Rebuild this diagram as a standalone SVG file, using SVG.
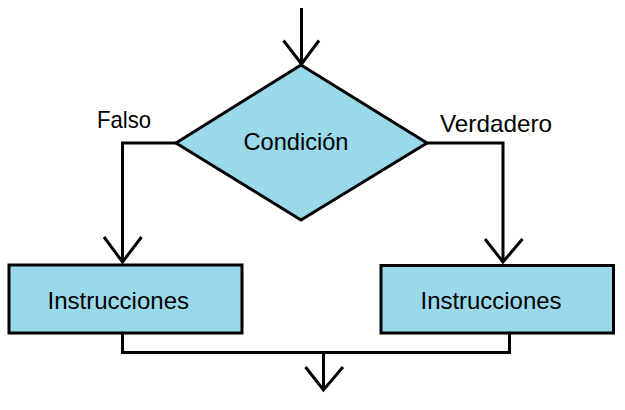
<svg xmlns="http://www.w3.org/2000/svg" width="625" height="410" viewBox="0 0 625 410">
<style>
.shape{fill:#99D9EA;stroke:#000;stroke-width:3}
.line{fill:none;stroke:#000;stroke-width:3}
.lbl{font-family:"Liberation Sans",Arial,sans-serif;font-size:24px;fill:#000}
</style>
<rect width="625" height="410" fill="#fff"/>
<g id="connectors">
  <path class="line" d="M301.5,8 V64"/>
  <path class="line" d="M283.5,40.5 L301.5,64 L319,40.5"/>
  <path class="line" d="M176,143 H122.5 V262"/>
  <path class="line" d="M104,237 L122.5,262 L141.5,237"/>
  <path class="line" d="M427,143 H503 V262"/>
  <path class="line" d="M485,239 L503,262 L522.5,239"/>
  <path class="line" d="M122.5,333 V352.5 H509.5 V333.5"/>
  <path class="line" d="M323.5,352.5 V390"/>
  <path class="line" d="M305.5,367 L323.5,390 L343,367"/>
  <text class="lbl" x="97" y="128" font-size="22" textLength="54" lengthAdjust="spacingAndGlyphs">Falso</text>
  <text class="lbl" x="440" y="131.5" font-size="23" textLength="112" lengthAdjust="spacingAndGlyphs">Verdadero</text>
</g>
<g id="condicion">
  <polygon class="shape" points="301,65 427,143 301,220 176,143"/>
  <text class="lbl" x="243.5" y="150" textLength="105" lengthAdjust="spacingAndGlyphs">Condición</text>
</g>
<g id="instrucciones-falso">
  <rect class="shape" x="9" y="265" width="233" height="68"/>
  <text class="lbl" x="47.5" y="308.5" textLength="141.5" lengthAdjust="spacingAndGlyphs">Instrucciones</text>
</g>
<g id="instrucciones-verdadero">
  <rect class="shape" x="381" y="265.5" width="232.5" height="67.5"/>
  <text class="lbl" x="420.5" y="308.5" textLength="141" lengthAdjust="spacingAndGlyphs">Instrucciones</text>
</g>
</svg>
